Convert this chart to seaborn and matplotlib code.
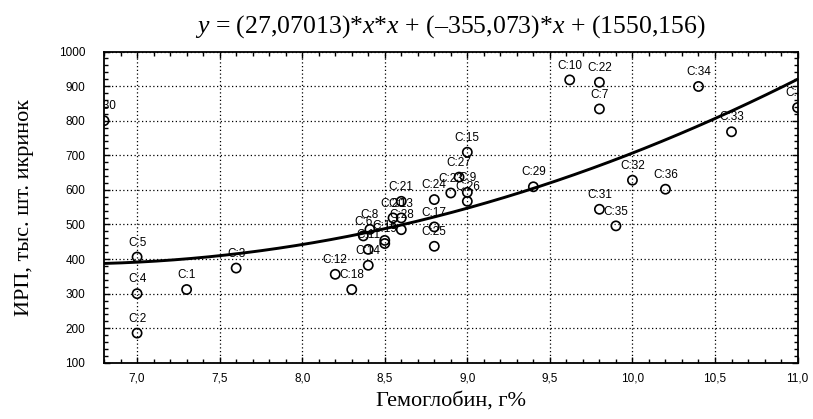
import numpy as np
import pandas as pd
import seaborn as sns
import matplotlib.pyplot as plt
from matplotlib.ticker import MultipleLocator, FuncFormatter

#%% Data
labels = ["C:1", "C:2", "C:3", "C:4", "C:5", "C:6", "C:7", "C:8", "C:9", "C:10",
          "C:11", "C:12", "C:13", "C:14", "C:15", "C:16", "C:17", "C:18", "C:19", "C:20",
          "C:21", "C:22", "C:23", "C:24", "C:25", "C:26", "C:27", "C:28", "C:29", "C:30",
          "C:31", "C:32", "C:33", "C:34", "C:35", "C:36", "C:37"]
hemoglobin = [7.3, 7.0, 7.6, 7.0, 7.0, 8.37, 9.8, 8.41, 9.0, 9.62,
              8.4, 8.2, 8.6, 8.4, 9.0, 8.5, 8.8, 8.3, 8.5, 8.55,
              8.6, 9.8, 8.9, 8.8, 8.8, 9.0, 8.95, 8.6, 9.4, 6.8,
              9.8, 10.0, 10.6, 10.4, 9.9, 10.2, 11.0]
irp = [312, 186, 374, 300, 406, 467, 834, 486, 593, 918,
       428, 356, 519, 382, 709, 454, 493, 312, 445, 519,
       567, 911, 591, 572, 437, 567, 637, 485, 609, 800,
       544, 628, 768, 899, 496, 602, 838]
# quadratic fit, coefficients from the title
coef = [27.07013, -355.073, 1550.156]

df = pd.DataFrame({"x": hemoglobin, "y": irp, "label": labels})

#%% Plot
plt.rcParams['mathtext.fontset'] = 'custom'
plt.rcParams['mathtext.it'] = 'Liberation Serif:italic'
plt.rcParams['mathtext.rm'] = 'Liberation Serif'

fig = plt.figure(figsize=(8.13, 4.19), dpi=100)
ax = fig.add_axes([0.128, 0.134, 0.853, 0.743])

xs = np.linspace(6.8, 11.0, 200)
ys = coef[0] * xs * xs + coef[1] * xs + coef[2]
sns.lineplot(x=xs, y=ys, ax=ax, color="black", linewidth=2.1, zorder=3)

sns.scatterplot(data=df, x="x", y="y", ax=ax, s=44, facecolor="none",
                edgecolor="black", linewidth=1.2, zorder=4, clip_on=True)

for _, r in df.iterrows():
    ax.text(r["x"], r["y"] + 24, r["label"], ha="center", va="bottom",
            fontsize=8.5, family="Liberation Sans", clip_on=True, zorder=5)

ax.set_xlim(6.8, 11.0)
ax.set_ylim(100, 1000)
ax.xaxis.set_major_locator(MultipleLocator(0.5))
ax.xaxis.set_minor_locator(MultipleLocator(0.1))
ax.yaxis.set_major_locator(MultipleLocator(100))
ax.yaxis.set_minor_locator(MultipleLocator(20))
ax.xaxis.set_major_formatter(FuncFormatter(lambda v, p: f"{v:.1f}".replace(".", ",")))
ax.tick_params(which="both", direction="in", top=True, right=True, width=1)
ax.tick_params(which="major", length=4, labelsize=8.5)
ax.tick_params(which="minor", length=3)
ax.tick_params(axis="x", which="major", pad=7)
ax.tick_params(axis="y", which="major", pad=13.5)
for lab in ax.get_xticklabels() + ax.get_yticklabels():
    lab.set_family("Liberation Sans")

ax.grid(True, which="major", linestyle=(0, (1, 2)), color="black", linewidth=0.9)
for s in ax.spines.values():
    s.set_linewidth(1.3)
    s.set_color("black")

ax.set_xlabel("Гемоглобин, г%", family="Liberation Serif", fontsize=16, labelpad=5)
ax.set_ylabel("ИРП, тыс. шт. икринок", family="Liberation Serif", fontsize=16, labelpad=18)
ax.set_title(r"$y$ = (27,07013)*$x$*$x$ + (–355,073)*$x$ + (1550,156)",
             family="Liberation Serif", fontsize=18.5, pad=14)

fig.savefig("out.png", dpi=100)
